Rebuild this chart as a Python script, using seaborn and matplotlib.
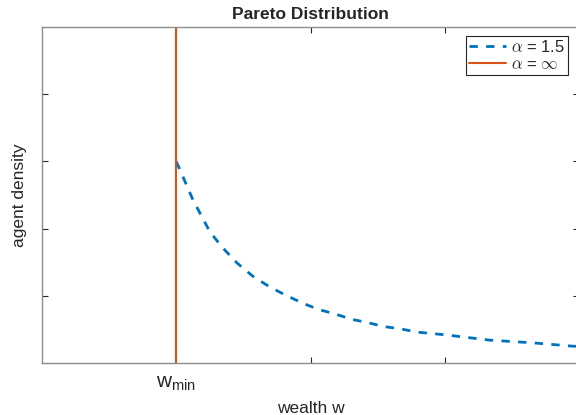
import matplotlib
matplotlib.use("Agg")
import matplotlib.pyplot as plt
import seaborn as sns
import pandas as pd

# Data
w_pareto = [1.0, 1.124, 1.251, 1.348, 1.452, 1.571, 1.698, 1.824, 1.943, 2.055,
            2.182, 2.308, 2.427, 2.554, 2.666, 2.792, 3.0, 3.336, 3.656, 3.954, 4.05]
density_pareto = [3.0, 2.43, 1.95, 1.71, 1.49, 1.29, 1.13, 1.00, 0.89, 0.80,
                  0.73, 0.65, 0.60, 0.54, 0.51, 0.46, 0.42, 0.34, 0.30, 0.25, 0.245]
w_min = 1.0
w_inf = [w_min, w_min]
density_inf = [0.0, 5.2]
x_ticks = [1, 2, 3]
x_tick_labels = [r"$\mathregular{w_{min}}$", "", ""]
y_ticks = [1, 2, 3, 4]
labels = [r"$\alpha$ = 1.5", r"$\alpha$ = $\infty$"]

sns.set_theme(style="white")
plt.rcParams["font.family"] = ["Liberation Sans", "DejaVu Sans"]
plt.rcParams["mathtext.fontset"] = "cm"

fig = plt.figure(figsize=(5.76, 4.15), dpi=100)
ax = fig.add_axes([42 / 576, 52 / 415, 537 / 576, 336 / 415])

df1 = pd.DataFrame({"w": w_pareto, "d": density_pareto})
df2 = pd.DataFrame({"w": w_inf, "d": density_inf})
sns.lineplot(data=df1, x="w", y="d", ax=ax, color="#0072BD", lw=2.0,
             label=labels[0], sort=False, estimator=None)
sns.lineplot(data=df2, x="w", y="d", ax=ax, color="#D95319", lw=1.5,
             label=labels[1], sort=False, estimator=None)
ax.lines[0].set_dashes((3, 3))

ax.set_xlim(0, 4)
ax.set_ylim(0, 5)
ax.set_xticks(x_ticks)
ax.set_xticklabels(x_tick_labels, fontsize=15, color="#262626")
ax.set_yticks(y_ticks)
ax.set_yticklabels([])
ax.tick_params(direction="in", length=4, width=0.8, color="#262626",
               top=True, right=True, bottom=True, left=True, pad=8)
for s in ax.spines.values():
    s.set_color("#8c8c8c")
    s.set_linewidth(1.0)
ax.set_xlabel("wealth w", fontsize=12.5, color="#262626", labelpad=6)
ax.set_ylabel("agent density", fontsize=12.5, color="#262626", labelpad=3)
ax.set_title("Pareto Distribution", fontsize=12.5, fontweight="bold", pad=6)

leg = ax.legend(loc="upper right", bbox_to_anchor=(568 / 576, 379 / 415),
                bbox_transform=fig.transFigure, borderaxespad=0,
                fancybox=False, framealpha=1, edgecolor="#262626",
                fontsize=12, handlelength=2.2, handletextpad=0.3,
                borderpad=0.2, labelspacing=0.1)
leg.get_frame().set_linewidth(0.8)

fig.savefig("out.png", dpi=100)
